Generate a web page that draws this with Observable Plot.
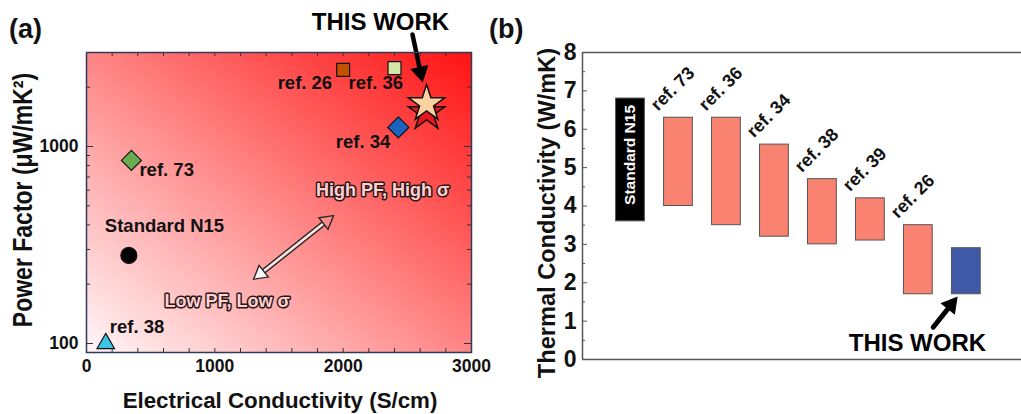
<!DOCTYPE html>
<html><head><meta charset="utf-8">
<script src="https://cdn.jsdelivr.net/npm/d3@7"></script>
<script src="https://cdn.jsdelivr.net/npm/@observablehq/plot@0.6"></script>
<style>
body{margin:0;background:#fff;}
#wrap{position:relative;width:1021px;height:414px;overflow:hidden;font-family:"Liberation Sans",Arial,sans-serif;font-weight:bold;color:#111;}
#wrap svg{position:absolute;top:0;}
.lab{position:absolute;white-space:nowrap;line-height:1;}
</style></head><body><div id="wrap"></div>
<script>
// ---------- Panel (a) data ----------
const samplesA = ["Standard N15", "ref. 38", "ref. 73", "ref. 26", "ref. 36", "ref. 34", "THIS WORK"];
const sigmaA = [330, 150, 350, 2000, 2400, 2430, 2650];      // S/cm
const pfA = [280, 100, 850, 2450, 2500, 1250, 1650];          // uW/mK^2
const xTicksA = [0, 1000, 2000, 3000];
const yTicksA = [100, 1000];
// ---------- Panel (b) data ----------
const samplesB = ["Standard N15", "ref. 73", "ref. 36", "ref. 34", "ref. 38", "ref. 39", "ref. 26", "THIS WORK"];
const kLow = [3.6, 4.0, 3.5, 3.2, 3.0, 3.1, 1.7, 1.7];
const kHigh = [6.8, 6.3, 6.3, 5.6, 4.7, 4.2, 3.5, 2.9];
const yTicksB = [0, 1, 2, 3, 4, 5, 6, 7, 8];

const FONT = '"Liberation Sans", Arial, sans-serif';
const wrap = document.getElementById("wrap");

// ---------- Panel (a) ----------
const rowsA = samplesA.map((s, i) => ({name: s, x: sigmaA[i], y: pfA[i]}));
const dotStyle = {
  "Standard N15": {symbol: "circle", fill: "#000000", r: 8},
  "ref. 38": {symbol: "triangle", fill: "#3cc4e6", r: 6.5},
  "ref. 73": {symbol: "diamond2", fill: "#6aac50", r: 9},
  "ref. 26": {symbol: "square", fill: "#c25200", r: 7.3},
  "ref. 36": {symbol: "square", fill: "#d4e8a6", r: 7.3},
  "ref. 34": {symbol: "diamond2", fill: "#1c62bf", r: 9.5}
};
const labStyle = {
  "Standard N15": {dx: -24, dy: -29, textAnchor: "start"},
  "ref. 38": {dx: 4, dy: -16, textAnchor: "start"},
  "ref. 73": {dx: 8, dy: 10, textAnchor: "start"},
  "ref. 26": {dx: -11, dy: 13, textAnchor: "end"},
  "ref. 36": {dx: -46, dy: 15, textAnchor: "start"},
  "ref. 34": {dx: -8, dy: 15, textAnchor: "end"}
};
const W_A = 500, H_A = 414, mL = 86, mR = 29, mT = 52, mB = 62;
const innerWA = W_A - mL - mR, innerHA = H_A - mT - mB;
const xMinor = d3.range(200, 3000, 200);
const yMinor = [200, 300, 400, 500, 600, 700, 800, 900, 2000];
const yMajor = [100, 1000];

const marksA = [Plot.frame({fill: "url(#bgGradA)"})];
// inward ticks on all four sides
marksA.push(
  Plot.tickX(xMinor, {x: d => d, insetTop: innerHA - 4, stroke: "#333"}),
  Plot.tickX(xMinor, {x: d => d, insetBottom: innerHA - 4, stroke: "#333"}),
  Plot.tickY(yMinor, {y: d => d, insetRight: innerWA - 4, stroke: "#333"}),
  Plot.tickY(yMinor, {y: d => d, insetLeft: innerWA - 4, stroke: "#333"}),
  Plot.tickY(yMajor, {y: d => d, insetRight: innerWA - 7, stroke: "#333"}),
  Plot.tickY(yMajor, {y: d => d, insetLeft: innerWA - 7, stroke: "#333"})
);
// double-headed arrow (Low <-> High)
const dbl = [{x1: 1302, y1: 212, x2: 1925, y2: 446}];
marksA.push(
  Plot.arrow(dbl, {x1: "x1", y1: "y1", x2: "x2", y2: "y2", stroke: "#2a2a2a", strokeWidth: 5.5, headLength: 0, insetStart: 9, insetEnd: 9}),
  Plot.arrow(dbl, {x1: "x1", y1: "y1", x2: "x2", y2: "y2", stroke: "#ffe4e4", strokeWidth: 2.6, headLength: 0, insetStart: 8, insetEnd: 8}),
  Plot.dot(dbl, {x: "x2", y: "y2", symbol: "triangle", r: 5.5, rotate: 51.8, dx: -6.7, dy: 5.3, fill: "#ff8a8a", stroke: "#2a2a2a", strokeWidth: 1.4}),
  Plot.dot(dbl, {x: "x1", y: "y1", symbol: "triangle", r: 5.5, rotate: 231.8, dx: 6.7, dy: -5.3, fill: "#fff6f6", stroke: "#2a2a2a", strokeWidth: 1.4})
);
marksA.push(
  Plot.text([{x: 2307, y: 600, t: "High PF, High σ"}, {x: 1096, y: 163, t: "Low PF, Low σ"}],
    {x: "x", y: "y", text: "t", fill: "#ffd0d0", stroke: "#2a1818", strokeWidth: 3, fontSize: 18, fontWeight: "bold"})
);
// sample points
for (const r of rowsA) {
  if (r.name === "THIS WORK") continue;
  const s = dotStyle[r.name];
  marksA.push(Plot.dot([r], {x: "x", y: "y", symbol: s.symbol, fill: s.fill, r: s.r, stroke: "#111", strokeWidth: 1.2}));
  const l = labStyle[r.name];
  marksA.push(Plot.text([r], {x: "x", y: "y", text: "name", dx: l.dx, dy: l.dy, textAnchor: l.textAnchor, fontSize: 18.5, fontWeight: "bold", fill: "#111"}));
}
const tw = rowsA.find(d => d.name === "THIS WORK");
marksA.push(
  Plot.dot([tw], {x: "x", y: "y", symbol: "star", r: 11.5, fill: "#e8141c", stroke: "#111", strokeWidth: 1.5, dy: 9}),
  Plot.dot([tw], {x: "x", y: "y", symbol: "star", r: 11.5, fill: "#fcd2a2", stroke: "#111", strokeWidth: 1.5})
);
// THIS WORK annotation
const twArrowA = [{x1: 2540, y1: 3700, x2: 2618, y2: 2140}];
marksA.push(
  Plot.arrow(twArrowA, {x1: "x1", y1: "y1", x2: "x2", y2: "y2", stroke: "#000", strokeWidth: 4.5, headLength: 0, insetEnd: 8}),
  Plot.dot(twArrowA, {x: "x2", y: "y2", symbol: "triangle", r: 6.2, rotate: 167.5, dx: -2.0, dy: -9.2, fill: "#000", stroke: "#000", strokeWidth: 1}),
  Plot.text([{x: 2291, y: 4256, t: "THIS WORK"}], {x: "x", y: "y", text: "t", fontSize: 24, fontWeight: "bold", fill: "#000"})
);
marksA.push(Plot.frame({stroke: "#2d3b5c", strokeWidth: 1.5}));

const plotA = Plot.plot({
  width: W_A, height: H_A,
  marginLeft: mL, marginRight: mR, marginTop: mT, marginBottom: mB,
  style: {fontFamily: FONT, fontWeight: "bold", fontSize: "17.5px", color: "#111", background: "transparent", overflow: "visible"},
  x: {domain: [0, 3000], ticks: xTicksA, tickSize: 0, tickPadding: 7, label: null, tickFormat: d3.format("d")},
  y: {type: "log", domain: [90, 3000], ticks: yTicksA, tickSize: 0, tickPadding: 8, label: null, tickFormat: d3.format("d")},
  marks: marksA
});
d3.select(plotA).insert("defs", ":first-child").html(
  `<linearGradient id="bgGradA" x1="0" y1="1" x2="1" y2="0">
     <stop offset="0" stop-color="#fff6f8"/>
     <stop offset="0.5" stop-color="#ff8585"/>
     <stop offset="1" stop-color="#ff1212"/>
   </linearGradient>`);
plotA.style.left = "0px";
wrap.appendChild(plotA);

// ---------- Panel (b) ----------
const rowsB = samplesB.map((s, i) => ({name: s, i, lo: kLow[i], hi: kHigh[i]}));
const W_B = 541, H_B = 414;
const innerWB = W_B - 102;
const halfTicks = d3.range(0.5, 8, 1);
const fillB = d => d.name === "THIS WORK" ? "#4059a6" : d.name === "Standard N15" ? "#000000" : "#fa8270";
const twArrowB = [{x1: 6.31, y1: 0.84, x2: 6.8, y2: 1.61}];
const plotB = Plot.plot({
  width: W_B, height: H_B,
  marginLeft: 102, marginRight: 0, marginTop: 52, marginBottom: 55,
  style: {fontFamily: FONT, fontWeight: "bold", fontSize: "23px", color: "#111", background: "transparent", overflow: "visible"},
  x: {type: "linear", domain: [-1, 8.15], axis: null},
  y: {domain: [0, 8], ticks: yTicksB, tickSize: 0, tickPadding: 6, label: null},
  marks: [
    Plot.ruleY([0, 8], {stroke: "#555", strokeWidth: 1.5}),
    Plot.ruleX([-1], {stroke: "#555", strokeWidth: 1.5}),
    Plot.tickY(yTicksB, {y: d => d, insetRight: innerWB - 5, stroke: "#555"}),
    Plot.tickY(halfTicks, {y: d => d, insetRight: innerWB - 3, stroke: "#555"}),
    Plot.rectY(rowsB, {x1: d => d.i - 0.3, x2: d => d.i + 0.3, y1: "lo", y2: "hi", fill: fillB, stroke: "#555", strokeWidth: 1}),
    Plot.text(rowsB.filter(d => d.name === "Standard N15"), {x: "i", y: d => (d.lo + d.hi) / 2, text: "name", rotate: -90, fill: "#fff", fontSize: 15.5, fontWeight: "bold", dy: -5}),
    Plot.text(rowsB.filter(d => d.name.startsWith("ref.")), {x: d => d.i - 0.3, y: "hi", text: "name", rotate: -45, textAnchor: "start", lineAnchor: "bottom", dx: -6, dy: -6, fontSize: 18, fontWeight: "bold", fill: "#111"}),
    Plot.arrow(twArrowB, {x1: "x1", y1: "y1", x2: "x2", y2: "y2", stroke: "#000", strokeWidth: 5, headLength: 0, insetEnd: 8}),
    Plot.dot(twArrowB, {x: "x2", y: "y2", symbol: "triangle", r: 6.2, rotate: 38.7, dx: -5.75, dy: 7.2, fill: "#000", stroke: "#000", strokeWidth: 1}),
    Plot.text([{x: 5.98, y: 0.42, t: "THIS WORK"}], {x: "x", y: "y", text: "t", fontSize: 24, fontWeight: "bold", fill: "#000"})
  ]
});
plotB.style.left = "480px";
wrap.appendChild(plotB);

// ---------- HTML labels ----------
function lab(text, css) {
  const d = document.createElement("div");
  d.className = "lab";
  d.innerHTML = text;
  Object.assign(d.style, css);
  wrap.appendChild(d);
}
lab("(a)", {left: "9px", top: "16px", fontSize: "27px"});
lab("(b)", {left: "489px", top: "16px", fontSize: "27px"});
lab("Electrical Conductivity (S/cm)", {left: "280px", top: "401px", fontSize: "22.3px", transform: "translate(-50%,-50%)"});
lab("Power Factor (μW/mK²)", {left: "23px", top: "200px", fontSize: "23px", transform: "translate(-50%,-50%) rotate(-90deg) scaleY(1.2)"});
lab("Thermal Conductivity (W/mK)", {left: "548px", top: "213px", fontSize: "23.6px", transform: "translate(-50%,-50%) rotate(-90deg)"});
</script></body></html>
